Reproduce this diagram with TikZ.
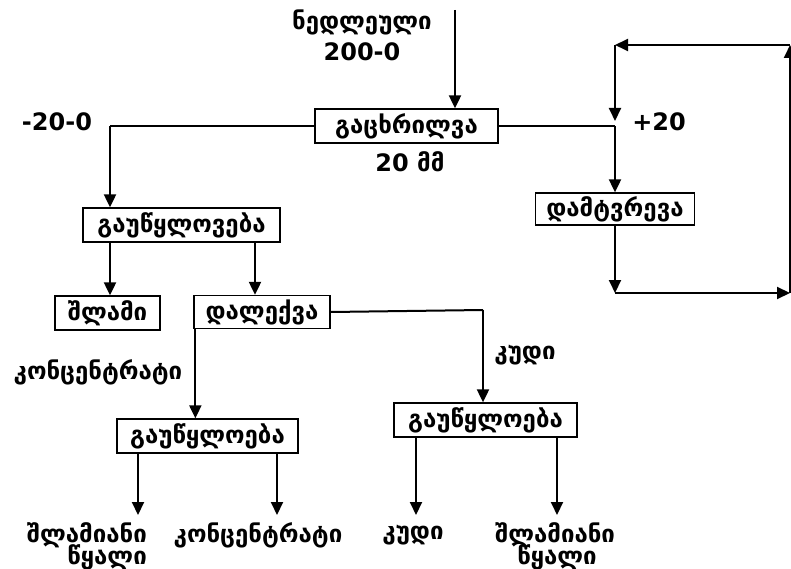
\documentclass[tikz,border=0pt]{standalone}
\usepackage{fontspec}
\setmainfont{DejaVu Sans}
\usetikzlibrary{arrows.meta}
\newcommand{\geo}{\fontsize{24}{28}\bfseries\selectfont}
\tikzset{
  box/.style={draw, line width=1.3pt, inner sep=0pt, font=\geo},
  lbl/.style={inner sep=0pt, font=\geo},
  wire/.style={line width=2pt},
  conn/.style={line width=2pt, -{Triangle[length=13pt,width=12pt]}}
}
\begin{document}
\begin{tikzpicture}[x=1pt,y=-1pt]
\useasboundingbox[fill=white] (0,0) rectangle (791,569);

% labels on top
\node[lbl] (raw1) at (362,22) {ნედლეული};
\node[lbl] (raw2) at (362,52) {200-0};
\coordinate (in) at (455,10);

% screening
\node[box, minimum width=183, minimum height=34] (scr) at (406.5,126) {გაცხრილვა};
\node[lbl] (mm) at (410,162) {20 მმ};
\node[lbl] (minus) at (57,122) {-20-0};
\node[lbl] (plus) at (659,122) {+20};

\coordinate (jl) at (110,126);
\coordinate (jr) at (615,126);
\coordinate (jrt) at (615,121);

% crushing loop
\node[box, minimum width=159, minimum height=32] (crush) at (615,209) {დამტვრევა};
\coordinate (lb) at (615,293);
\coordinate (rb) at (790,293);
\coordinate (rt) at (790,45);
\coordinate (lt) at (615,45);

% dewatering 1
\node[box, minimum width=197, minimum height=34] (gau1) at (181.5,225) {გაუწყლოვება};
\node[box, minimum width=105, minimum height=34] (slime) at (107.5,313) {შლამი};
\node[box, minimum width=136, minimum height=33] (settle) at (262,312) {დალექვა};
\coordinate (sr) at (483,310);

\node[lbl] (conc) at (98,372) {კონცენტრატი};
\node[lbl] (tail) at (525,355) {კუდი};

% dewatering 2 and 3
\node[box, minimum width=181, minimum height=34] (gau2) at (207.5,436) {გაუწყლოება};
\node[box, minimum width=183, minimum height=34] (gau3) at (485.5,420) {გაუწყლოება};

% bottom products
\node[lbl, anchor=east] (p1a) at (147,535) {შლამიანი};
\node[lbl, anchor=east] (p1b) at (147,557) {წყალი};
\node[lbl] (p2) at (258,535) {კონცენტრატი};
\node[lbl] (p3) at (413,535) {კუდი};
\node[lbl] (p4a) at (555,535) {შლამიანი};
\node[lbl] (p4b) at (557,557) {წყალი};

\coordinate (t1) at (138,515);
\coordinate (t2) at (277,515);
\coordinate (t3) at (416,515);
\coordinate (t4) at (557,515);

% connectors
\draw[conn] (in) -- (scr.north -| in);
\draw[wire] (scr.west) -- (jl);
\draw[conn] (jl) -- (gau1.north -| jl);
\draw[wire] (scr.east) -- (jr);
\draw[conn] (jr) -- (crush.north);
\draw[conn] (crush.south) -- (lb);
\draw[conn] (lb) -- (rb);
\draw[conn] (rb) -- (rt);
\draw[conn] (rt) -- (lt);
\draw[conn] (lt) -- (jrt);

\draw[conn] (gau1.south -| slime.north) ++(2.5,0) coordinate (a1) -- (a1 |- slime.north);
\draw[conn] (gau1.south -| settle.north) ++(-7,0) coordinate (a2) -- (a2 |- settle.north);

\draw[conn] ([xshift=2pt]settle.south west) coordinate (a3) -- (a3 |- gau2.north);
\draw[wire] (settle.east) -- (sr);
\draw[conn] (sr) -- (sr |- gau3.north);

\draw[conn] (gau2.south -| t1) -- (t1);
\draw[conn] (gau2.south -| t2) -- (t2);
\draw[conn] (gau3.south -| t3) -- (t3);
\draw[conn] (gau3.south -| t4) -- (t4);
\end{tikzpicture}
\end{document}
